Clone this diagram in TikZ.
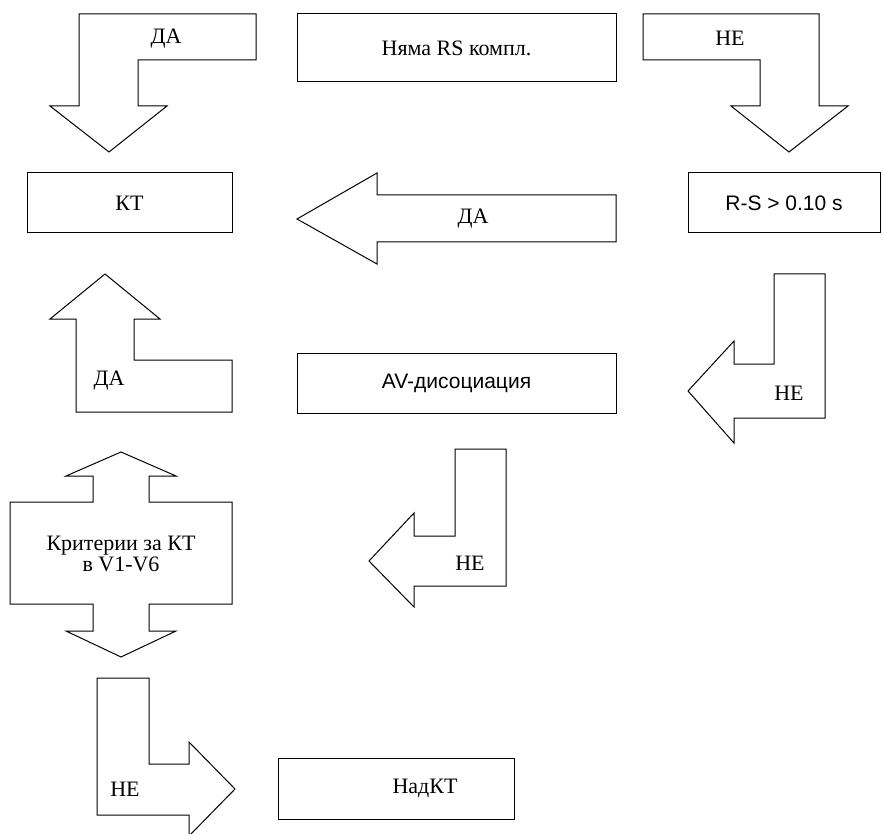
\documentclass[tikz,border=0pt]{standalone}
\usepackage{fontspec}
\setmainfont{Liberation Serif}
\newfontfamily\arialfont{Liberation Sans}

\begin{document}
\begin{tikzpicture}[x=1pt,y=-1pt]
            \tikzstyle{textbox} = [draw, line width=1pt, inner sep=0pt, font=\fontsize{22}{26}\selectfont]
            \tikzstyle{sansbox} = [textbox, font=\arialfont\fontsize{21}{25}\selectfont]
            \tikzstyle{bentarrow} = [draw, line width=1pt, line join=miter]
            \tikzstyle{answer} = [inner sep=0pt, font=\fontsize{22}{26}\selectfont]

            \useasboundingbox (0,0) rectangle (883,834);

            % boxes
            \node [textbox, minimum width=319pt, minimum height=68pt] (nyama) at (456.5,48) {Няма RS компл.};
            \node [textbox, minimum width=205pt, minimum height=60pt] (kt) at (129.5,203) {КТ};
            \node [sansbox, minimum width=192pt, minimum height=60pt] (rs) at (784,203) {R-S > 0.10 s};
            \node [sansbox, minimum width=319pt, minimum height=60pt] (av) at (456.5,383) {AV-дисоциация};
            \node [textbox, minimum width=236pt, minimum height=61pt] (nadkt) at (396,788.5) {\hspace*{58pt}НадКТ};

            % block arrows
            \draw [bentarrow] (79,14) -- (256,14) -- (256,60) -- (138,60) -- (138,106) -- (167,106)
                -- (109,152) -- (50,106) -- (79,106) -- cycle;
            \draw [bentarrow] (643,14) -- (819,14) -- (819,106) -- (848,106) -- (789,152) -- (731,106)
                -- (760,106) -- (760,60) -- (643,60) -- cycle;
            \draw [bentarrow] (297,219) -- (377,173) -- (377,195) -- (616,195) -- (616,242) -- (377,242)
                -- (377,264) -- cycle;
            \draw [bentarrow] (105,274) -- (160,319) -- (134,319) -- (134,360) -- (232,360) -- (232,412)
                -- (76,412) -- (76,319) -- (50,319) -- cycle;
            \draw [bentarrow] (774,274) -- (825,274) -- (825,418) -- (734,418) -- (734,443) -- (688,391)
                -- (734,341) -- (734,364) -- (774,364) -- cycle;
            \draw [bentarrow] (121,452) -- (176,476) -- (149,476) -- (149,502) -- (232,502) -- (232,604)
                -- (149,604) -- (149,631) -- (176,631) -- (121,657) -- (66,631) -- (93,631) -- (93,604)
                -- (10,604) -- (10,502) -- (93,502) -- (93,476) -- (66,476) -- cycle;
            \draw [bentarrow] (455,449) -- (506,449) -- (506,586) -- (414,586) -- (414,607) -- (369,561)
                -- (414,513) -- (414,536) -- (455,536) -- cycle;
            \draw [bentarrow] (97,678) -- (149,678) -- (149,764) -- (189,764) -- (189,742) -- (235,789)
                -- (189,836) -- (189,815) -- (97,815) -- cycle;

            % arrow texts
            \node [answer] (yes1) at (166,39) {ДА};
            \node [answer] (no1) at (730,38) {НЕ};
            \node [answer] (yes2) at (473,219) {ДА};
            \node [answer] (yes3) at (109,381) {ДА};
            \node [answer] (no2) at (789,393) {НЕ};
            \node [answer, align=center, font=\fontsize{22}{21.5}\selectfont] (crit) at (121,554) {Критерии за КТ\\в V1-V6};
            \node [answer] (no3) at (470,563) {НЕ};
            \node [answer] (no4) at (125,789) {НЕ};
        \end{tikzpicture}
\end{document}
